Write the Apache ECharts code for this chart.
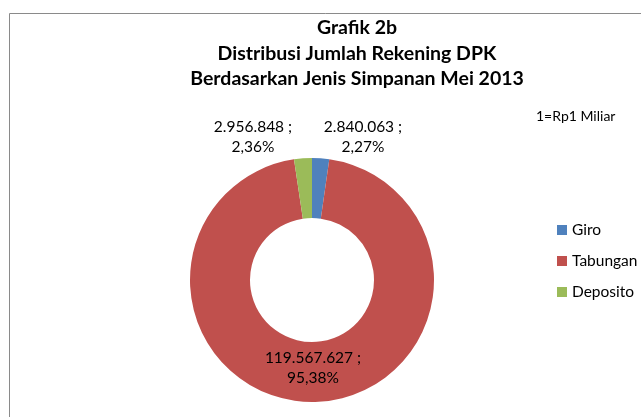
<!DOCTYPE html>
<html><head><meta charset="utf-8">
<script src="https://cdn.jsdelivr.net/npm/echarts@6/dist/echarts.min.js"></script>
<style>html,body{margin:0;padding:0;background:#fff}#c{width:641px;height:417px}</style>
</head><body><div id="c"></div>
<script>
const categories = ['Giro', 'Tabungan', 'Deposito'];
const values = [2840063, 119567627, 2956848];
const colors = ['#4F81BD', '#C0504D', '#9BBB59'];
const titleLines = ['Grafik 2b', 'Distribusi Jumlah Rekening DPK', 'Berdasarkan Jenis Simpanan Mei 2013'];
const unitNote = '1=Rp1 Miliar';

const FONT = 'Lato';
const total = values.reduce((a, b) => a + b, 0);
function fmtNum(v) { return String(v).replace(/\B(?=(\d{3})+(?!\d))/g, '.'); }
function fmtPct(v) { return (v / total * 100).toFixed(2).replace('.', ','); }

const chart = echarts.init(document.getElementById('c'));
chart.setOption({
  animation: false,
  title: {
    text: titleLines.join('\n'),
    left: 352, top: 10, textAlign: 'center',
    textStyle: { fontFamily: FONT, fontSize: 19.5, fontWeight: 'bold', color: '#000', lineHeight: 25.5 }
  },
  graphic: [
    { type: 'rect', shape: { x: 9.5, y: 13.5, width: 700, height: 500 }, style: { fill: 'none', stroke: '#8a8a8a', lineWidth: 1 }, silent: true },
    { type: 'text', left: 536, top: 109, style: { text: unitNote, fontFamily: FONT, fontSize: 14, fill: '#000' } }
  ],
  legend: {
    orient: 'vertical', left: 552, top: 217,
    itemWidth: 10, itemHeight: 10, itemGap: 15,
    icon: 'rect',
    textStyle: { fontFamily: FONT, fontSize: 15.5, color: '#000' },
    data: categories
  },
  series: [{
    type: 'pie',
    center: [312, 280],
    radius: [62, 122],
    startAngle: 90,
    clockwise: true,
    color: colors,
    data: categories.map((n, i) => ({ name: n, value: values[i] })),
    label: {
      show: true,
      fontFamily: FONT, fontSize: 15.5, color: '#000', lineHeight: 20, align: 'center',
      formatter: p => fmtNum(p.value) + ' ;\n' + fmtPct(p.value) + '%'
    },
    labelLine: { show: false },
    labelLayout: function (p) {
      if (p.dataIndex === 0) return { x: 363, y: 137, align: 'center', verticalAlign: 'middle' };
      if (p.dataIndex === 2) return { x: 253, y: 137, align: 'center', verticalAlign: 'middle' };
      return { x: 313, y: 368, align: 'center', verticalAlign: 'middle' };
    },
    itemStyle: { borderWidth: 0 },
    emphasis: { disabled: true }
  }]
});
</script></body></html>
